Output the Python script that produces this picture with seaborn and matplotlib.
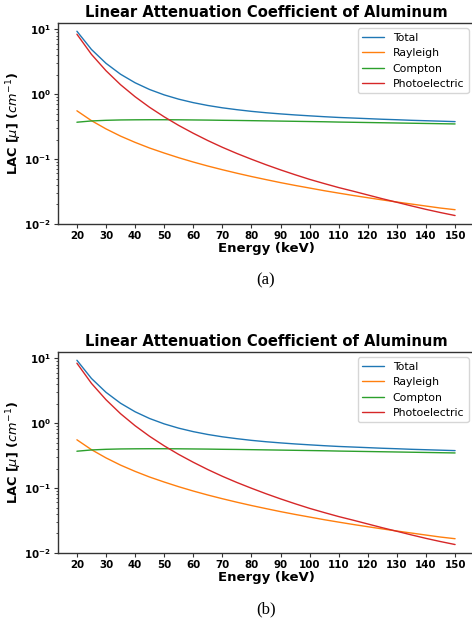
import numpy as np
import pandas as pd
import matplotlib
matplotlib.use("Agg")
import matplotlib.pyplot as plt
import seaborn as sns

energy = [20, 25, 30, 35, 40, 45, 50, 55, 60, 65, 70, 75, 80, 85, 90, 95, 100,
          105, 110, 115, 120, 125, 130, 135, 140, 145, 150]
total = [9.33, 4.89, 2.99, 2.03, 1.50, 1.18, 0.976, 0.838, 0.741, 0.670, 0.617,
         0.577, 0.544, 0.518, 0.497, 0.479, 0.464, 0.450, 0.438, 0.429, 0.420,
         0.411, 0.404, 0.396, 0.390, 0.384, 0.378]
rayleigh = [0.555, 0.391, 0.292, 0.226, 0.181, 0.148, 0.124, 0.105, 0.0901,
            0.0782, 0.0686, 0.0606, 0.0539, 0.0483, 0.0434, 0.0393, 0.0358,
            0.0326, 0.0299, 0.0275, 0.0254, 0.0235, 0.0218, 0.0203, 0.0189,
            0.0176, 0.0166]
compton = [0.370, 0.387, 0.396, 0.401, 0.403, 0.404, 0.404, 0.403, 0.401, 0.399,
           0.396, 0.394, 0.391, 0.388, 0.385, 0.382, 0.379, 0.376, 0.372, 0.369,
           0.366, 0.363, 0.360, 0.357, 0.354, 0.351, 0.348]
photoelectric = [8.40, 4.11, 2.30, 1.40, 0.914, 0.627, 0.448, 0.330, 0.250, 0.193,
                 0.152, 0.122, 0.0995, 0.0819, 0.0682, 0.0574, 0.0487, 0.0420,
                 0.0364, 0.0320, 0.0280, 0.0245, 0.0216, 0.0190, 0.0168, 0.0150,
                 0.0135]
series_names = ["Total", "Rayleigh", "Compton", "Photoelectric"]
series_colors = ["#1f77b4", "#ff7f0e", "#2ca02c", "#d62728"]
xticks = list(range(20, 151, 10))
captions = ["(a)", "(b)"]
title = "Linear Attenuation Coefficient of Aluminum"

sns.set_style("ticks")
plt.rcParams["font.family"] = ["DejaVu Sans"]
plt.rcParams["text.color"] = "black"
plt.rcParams["axes.labelcolor"] = "black"

W, H = 472, 621
fig = plt.figure(figsize=(W / 100, H / 100), dpi=100)

panel_tops = [23, 352]
ax_left, ax_right, ax_h = 58, 474, 201

series_vals = [total, rayleigh, compton, photoelectric]

for top, cap in zip(panel_tops, captions):
    ax = fig.add_axes([ax_left / W, 1 - (top + ax_h) / H,
                       (ax_right - ax_left) / W, ax_h / H])
    for name, vals, col in zip(series_names, series_vals, series_colors):
        sns.lineplot(x=energy, y=vals, label=name, color=col, lw=1.0, ax=ax)
    ax.set_yscale("log")
    ax.set_ylim(0.01, 12.5)
    ax.set_xlim(13.5, 156.5)
    ax.set_xticks(xticks)
    ax.set_title(title, fontsize=10.6, fontweight="bold", pad=4, color="black")
    ax.set_xlabel("Energy (keV)", fontsize=9.5, fontweight="bold", labelpad=1)
    ax.set_ylabel(r"LAC [$\mu$] ($cm^{-1}$)", fontsize=9.3, fontweight="bold",
                  labelpad=0)
    for lab in ax.get_xticklabels() + ax.get_yticklabels():
        lab.set_fontweight("bold")
        lab.set_fontsize(7.4)
        lab.set_color("black")
    ax.tick_params(axis="both", which="major", length=3, width=0.8, pad=2,
                   color="#333333")
    ax.tick_params(axis="y", which="minor", length=1.8, width=0.6,
                   color="#333333")
    for sp in ax.spines.values():
        sp.set_linewidth(1.0)
        sp.set_color("#333333")
    leg = ax.legend(loc="upper right", fontsize=7.8, frameon=True,
                    borderaxespad=0.5, handlelength=2.0)
    leg.get_frame().set_edgecolor("#cccccc")
    cx = (ax_left + ax_right) / 2 / W
    cy = 1 - (top + ax_h + 56) / H
    fig.text(cx, cy, cap, ha="center", va="center", fontsize=12,
             family=["Liberation Serif"])

fig.savefig("out.png", dpi=100)
